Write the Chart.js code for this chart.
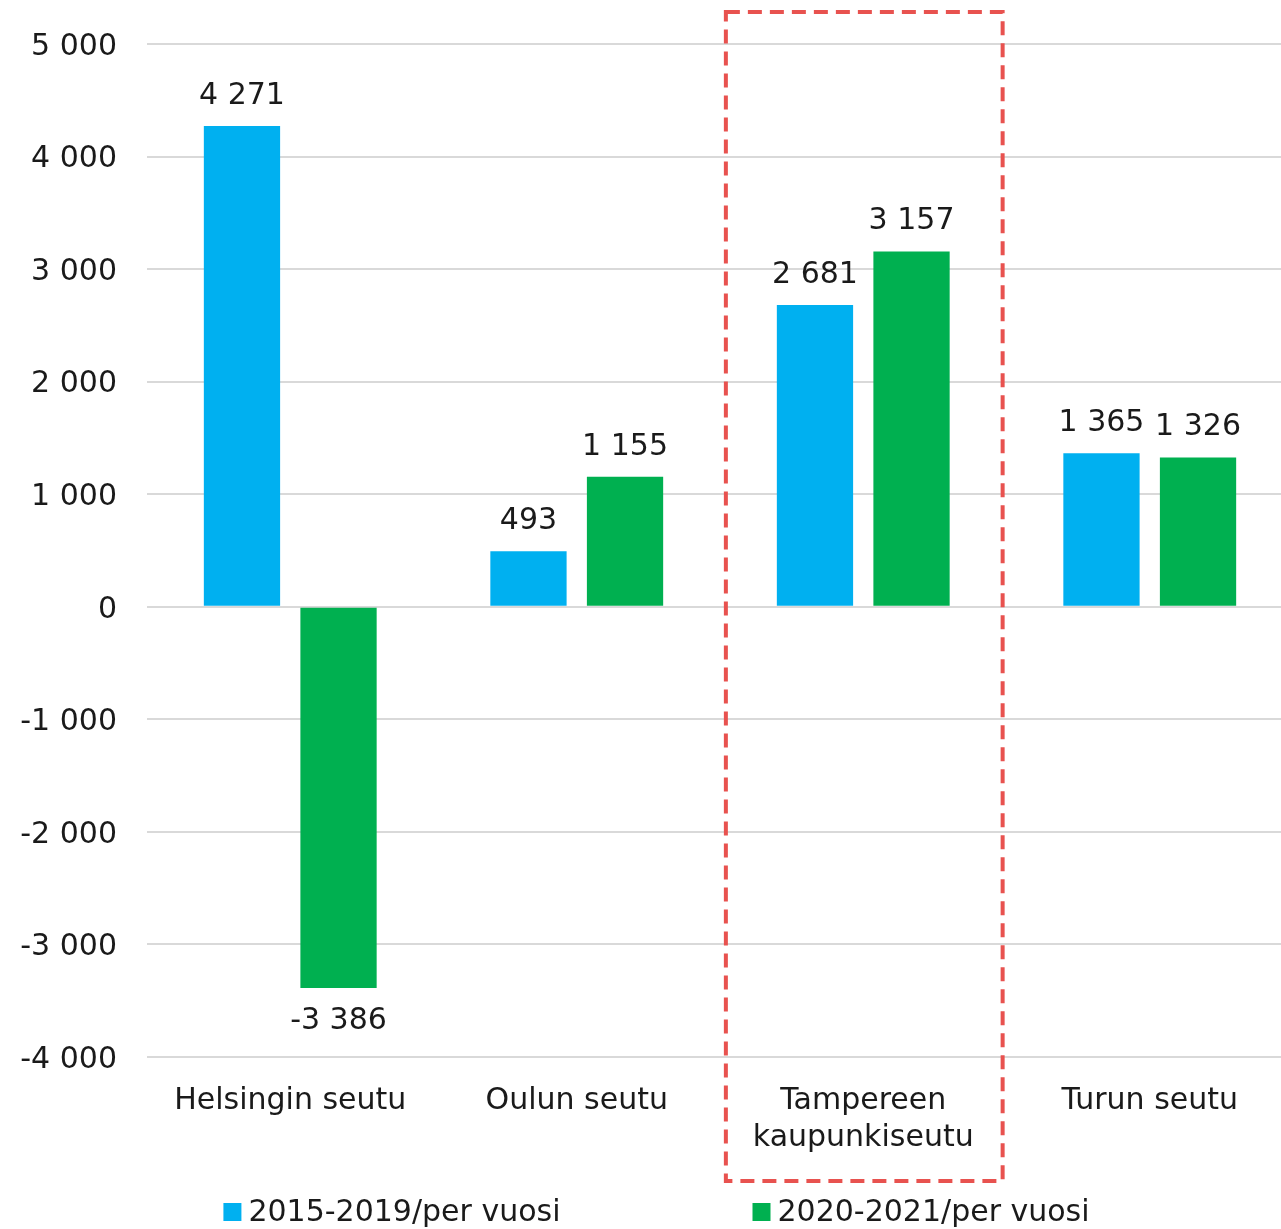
<!DOCTYPE html>
<html>
<head>
<meta charset="utf-8">
<script src="https://cdn.jsdelivr.net/npm/chart.js@4/dist/chart.umd.min.js"></script>
<style>
  html, body { margin: 0; padding: 0; background: #fff; overflow: hidden; }
  #wrap { width: 1293px; height: 1245px; position: relative; }
</style>
</head>
<body>
<div id="wrap"><canvas id="chart"></canvas></div>
<script>
const categories = ['Helsingin seutu', 'Oulun seutu', ['Tampereen', 'kaupunkiseutu'], 'Turun seutu'];
const seriesNames = ['2015-2019/per vuosi', '2020-2021/per vuosi'];
const values2015 = [4271, 493, 2681, 1365];
const values2020 = [-3386, 1155, 3157, 1326];
const highlightIndex = 2;

const FONT = '"DejaVu Sans", sans-serif';
const TEXT = '#1a1a1a';

function fmt(v) {
  const s = Math.abs(v).toString().replace(/\B(?=(\d{3})+(?!\d))/g, ' ');
  return (v < 0 ? '-' : '') + s;
}

const valueLabels = {
  id: 'valueLabels',
  afterDatasetsDraw(chart) {
    const ctx = chart.ctx;
    ctx.save();
    ctx.font = '30px ' + FONT;
    ctx.fillStyle = TEXT;
    ctx.textAlign = 'center';
    ctx.textBaseline = 'middle';
    chart.data.datasets.forEach((ds, i) => {
      chart.getDatasetMeta(i).data.forEach((bar, j) => {
        const v = ds.data[j];
        const y = v >= 0 ? bar.y - 30 : bar.y + 33;
        ctx.fillText(fmt(v), bar.x, y);
      });
    });
    ctx.restore();
  }
};

// dashed frame around the highlighted region
const highlightBox = {
  id: 'highlightBox',
  afterDraw(chart) {
    const x = chart.scales.x;
    const area = chart.chartArea;
    const step = x.getPixelForValue(1) - x.getPixelForValue(0);
    const cx = x.getPixelForValue(highlightIndex) + 1;
    const ctx = chart.ctx;
    ctx.save();
    ctx.strokeStyle = '#E8524F';
    ctx.lineWidth = 4;
    ctx.setLineDash([14, 8]);
    ctx.strokeRect(cx - step * 0.483, area.top - 32, step * 0.966, area.bottom - area.top + 124 + 32);
    ctx.restore();
  }
};

const bottomLegend = {
  id: 'bottomLegend',
  afterDraw(chart) {
    const ctx = chart.ctx;
    ctx.save();
    ctx.font = '30px ' + FONT;
    ctx.textBaseline = 'middle';
    ctx.textAlign = 'left';
    const box = 18, gapText = 7, gapItem = 192;
    const items = chart.data.datasets.map(ds => ({ label: ds.label, color: ds.backgroundColor, w: box + gapText + ctx.measureText(ds.label).width }));
    const total = items.reduce((s, it) => s + it.w, 0) + gapItem * (items.length - 1);
    let x = chart.width / 2 + 10 - total / 2;
    const y = chart.height - 33;
    items.forEach(it => {
      ctx.fillStyle = it.color;
      ctx.fillRect(x, y - box / 2, box, box);
      ctx.fillStyle = TEXT;
      ctx.fillText(it.label, x + box + gapText, y + 1);
      x += it.w + gapItem;
    });
    ctx.restore();
  }
};

new Chart(document.getElementById('chart'), {
  type: 'bar',
  data: {
    labels: categories,
    datasets: [
      { label: seriesNames[0], data: values2015, backgroundColor: '#00B0F0' },
      { label: seriesNames[1], data: values2020, backgroundColor: '#00B050' }
    ]
  },
  options: {
    responsive: true,
    maintainAspectRatio: false,
    animation: false,
    categoryPercentage: 0.674,
    barPercentage: 0.79,
    layout: { padding: { top: 37, bottom: 71, left: 0, right: 0 } },
    plugins: {
      legend: { display: false },
      tooltip: { enabled: false }
    },
    scales: {
      x: {
        grid: { display: false },
        border: { display: false },
        ticks: {
          color: TEXT,
          font: { family: FONT, size: 30, lineHeight: 1.25 },
          padding: 17,
          maxRotation: 0
        }
      },
      y: {
        min: -4000,
        max: 5000,
        afterFit(scale) { scale.width = 147; },
        grid: { color: '#D9D9D9', lineWidth: 2, drawTicks: false },
        border: { display: false },
        ticks: {
          stepSize: 1000,
          color: TEXT,
          font: { family: FONT, size: 30, lineHeight: 0.933 },
          padding: 30,
          labelOffset: 3,
          callback: v => fmt(v)
        }
      }
    }
  },
  plugins: [valueLabels, highlightBox, bottomLegend]
});
</script>
</body>
</html>
